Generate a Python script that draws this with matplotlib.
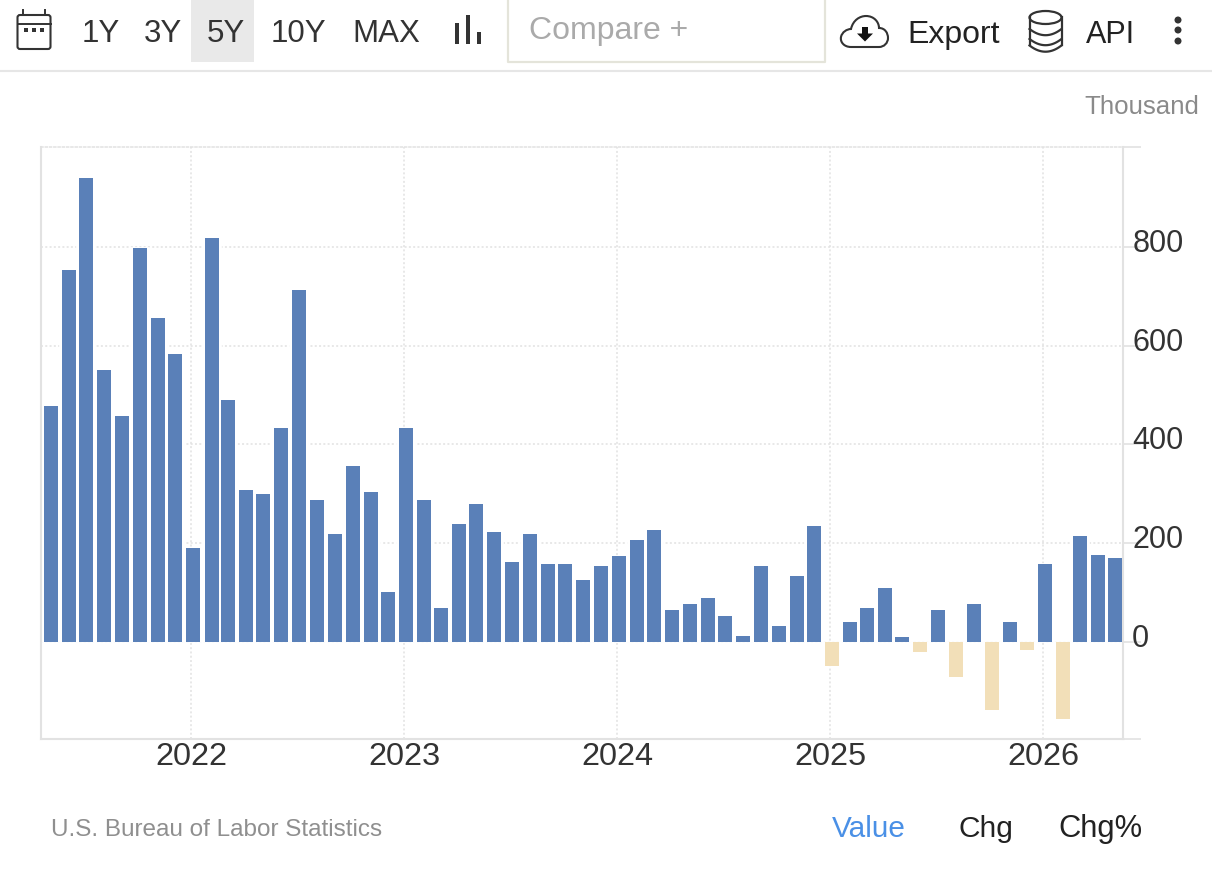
import matplotlib
matplotlib.use("Agg")
import matplotlib.pyplot as plt
import matplotlib.dates as mdates
import pandas as pd
from matplotlib.patches import Rectangle, FancyBboxPatch, Ellipse, PathPatch, Polygon
from matplotlib.path import Path
from matplotlib.transforms import ScaledTranslation

plt.rcParams['font.family'] = ['Liberation Sans', 'DejaVu Sans']

# ---------- data ----------
months = pd.date_range('2021-05-01', periods=61, freq='MS')
values = [478, 753, 939, 551, 457, 798, 656, 583, 190, 818,
          490, 308, 300, 433, 713, 287, 219, 356, 304, 101,
          433, 287, 69, 239, 279, 223, 162, 219, 158, 158,
          125, 154, 174, 206, 227, 65, 77, 89, 53, 12,
          154, 32, 134, 235, -49, 40, 68, 109, 11, -21,
          64, -70, 76, -138, 40, -17, 157, -155, 214, 177, 169]
year_ticks = ['2022-01-01', '2023-01-01', '2024-01-01', '2025-01-01', '2026-01-01']
year_labels = ['2022', '2023', '2024', '2025', '2026']
y_ticks = [0, 200, 400, 600, 800]
y_limits = (-196.5, 1002)
x_limits = ('2021-04-18', '2026-05-18')
ranges = [('1Y', 82), ('3Y', 144), ('5Y', 207), ('10Y', 271), ('MAX', 352)]

BLUE = '#5a80b8'
TAN = '#f2dfb8'
GRID = '#e2e2e2'
DARK = '#333333'
W, H = 1212, 872
DOTS = (0, (1.3, 1.5))

fig = plt.figure(figsize=(W / 100, H / 100), dpi=100, facecolor='white')

# ---------- chart ----------
L, R, T, B = 41, 1123, 147, 739
ax = fig.add_axes([L / W, 1 - B / H, (R - L) / W, (B - T) / H])
dates = months + pd.Timedelta(days=3.5)
colors = [BLUE if v >= 0 else TAN for v in values]
px_day = 0.5832
ax.bar(dates, values, width=18 / px_day, color='white', edgecolor='white', linewidth=1.2, zorder=2)
ax.bar(dates, values, width=14 / px_day, color=colors, linewidth=0, zorder=3)
ax.set_xlim(mdates.date2num(pd.Timestamp(x_limits[0])), mdates.date2num(pd.Timestamp(x_limits[1])))
ax.set_ylim(*y_limits)

ax.set_xticks(mdates.date2num(pd.to_datetime(year_ticks)))
ax.set_xticklabels(year_labels, fontsize=23.4, color=DARK)
ax.tick_params(axis='x', length=0, pad=2.4)
ax.yaxis.tick_right()
ax.set_yticks(y_ticks)
ax.set_yticklabels([str(v) for v in y_ticks], fontsize=22, color=DARK)
ax.tick_params(axis='y', length=13, width=1.2, color=GRID, pad=-6.4, which='major')
ax.set_yticks(list(y_limits), minor=True)
ax.tick_params(axis='y', which='minor', length=13, width=1.2, color=GRID)
shift = ScaledTranslation(0, 6.5 / 100, fig.dpi_scale_trans)
for lbl in ax.get_yticklabels():
    lbl.set_transform(lbl.get_transform() + shift)

ax.grid(True, which='major', color=GRID, linestyle=DOTS, linewidth=1.1, zorder=1)
ax.set_axisbelow(True)
for side in ('left', 'bottom', 'right'):
    ax.spines[side].set_color(GRID)
    ax.spines[side].set_linewidth(1.5)
ax.spines['top'].set_color(GRID)
ax.spines['top'].set_linewidth(1.1)
ax.spines['top'].set_linestyle(DOTS)

# ---------- page furniture (pixel coordinates) ----------
ov = fig.add_axes([0, 0, 1, 1], facecolor='none')
ov.set_xlim(0, W)
ov.set_ylim(H, 0)
ov.axis('off')

ov.add_patch(Rectangle((191, 0), 63, 62, color='#e9e9e9', lw=0))
ov.plot([0, W], [71, 71], color='#e6e6e6', lw=1.5)
ov.plot([508, 508, 825, 825], [0, 62, 62, 0], color='#e4e4da', lw=1.6)

for name, x in ranges:
    ov.text(x, 42, name, fontsize=22.5, color=DARK, ha='left', va='baseline')
ov.text(529, 38.5, 'Compare +', fontsize=23, color='#aaaaaa', ha='left', va='baseline')
ov.text(907, 43, 'Export', fontsize=23, color='#222222', ha='left', va='baseline')
ov.text(1086, 43, 'API', fontsize=22, color='#222222', ha='left', va='baseline')
ov.text(1199.5, 114, 'Thousand', fontsize=18.6, color='#8a8a8a', ha='right', va='baseline')
ov.text(51, 836, 'U.S. Bureau of Labor Statistics', fontsize=17.45, color='#8f8f8f', ha='left', va='baseline')
ov.text(832, 837, 'Value', fontsize=21.4, color='#4a90e6', ha='left', va='baseline')
ov.text(958, 837, 'Chg', fontsize=21.5, color='#222222', ha='left', va='baseline')
ov.text(1058, 837, 'Chg%', fontsize=22.2, color='#222222', ha='left', va='baseline')

# calendar icon
ov.add_patch(FancyBboxPatch((17.5, 15), 33, 34, boxstyle='round,pad=0,rounding_size=2.5',
                            fc='none', ec=DARK, lw=1.5))
ov.plot([17.5, 50.5], [24, 24], color=DARK, lw=1.4)
for x in (23, 45):
    ov.plot([x, x], [10, 15], color=DARK, lw=1.4)
for x in (24, 32, 40):
    ov.add_patch(Rectangle((x, 28), 4, 4, color=DARK, lw=0))

# bar-chart icon
for x, y0 in ((455, 23), (466, 15), (477, 32)):
    ov.add_patch(Rectangle((x, y0), 4.2, 44 - y0, color=DARK, lw=0))

# cloud icon
MV, CV = Path.MOVETO, Path.CURVE4
cloud = Path([(851, 47), (844, 47), (840, 42), (841, 37), (842, 32), (847, 29), (851, 29),
              (853, 20), (860, 16), (866, 16), (874, 16), (879, 22), (879, 28),
              (885, 28), (888, 33), (888, 38), (888, 43), (884, 47), (879, 47), (851, 47)],
             [MV, CV, CV, CV, CV, CV, CV, CV, CV, CV, CV, CV, CV, CV, CV, CV, CV, CV, CV, Path.LINETO])
ov.add_patch(PathPatch(cloud, fc='white', ec=DARK, lw=1.5))
ov.add_patch(Rectangle((862, 27.5), 6, 6.5, color='#111111', lw=0))
ov.add_patch(Polygon([(857, 33.5), (873, 33.5), (865, 41.5)], color='#111111', lw=0))

# database icon
ov.add_patch(Ellipse((1045.5, 17.5), 32, 13, fc='none', ec=DARK, lw=1.6))
theta = [i / 30 for i in range(31)]
for yb in (29, 39, 45.5):
    xs = [1029.5 + 32 * t for t in theta]
    ys = [yb - 25 * (t - 0.5) ** 2 + 6.2 for t in theta]
    ov.plot(xs, ys, color=DARK, lw=1.6)
ov.plot([1029.5, 1029.5], [17.5, 45.5], color=DARK, lw=1.6)
ov.plot([1061.5, 1061.5], [17.5, 45.5], color=DARK, lw=1.6)

# kebab icon
for y in (20, 30, 41):
    ov.add_patch(Ellipse((1178, y), 7, 7, color=DARK, lw=0))

fig.savefig('out.png', dpi=100, facecolor='white')
